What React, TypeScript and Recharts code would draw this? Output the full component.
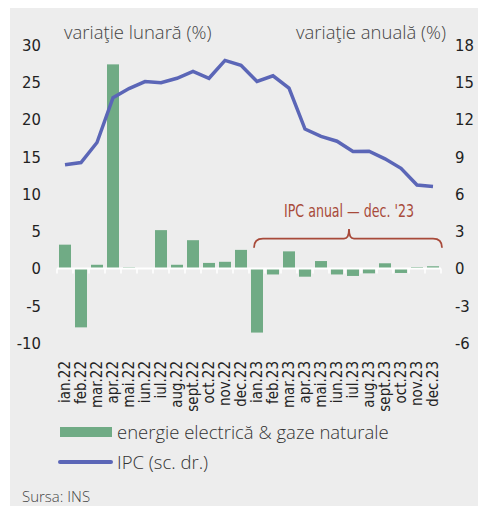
import React from 'react';
import { ComposedChart, Bar, Line, XAxis, YAxis, ReferenceLine, ReferenceArea, Legend } from 'recharts';

const months = [
  'ian.22', 'feb.22', 'mar.22', 'apr.22', 'mai.22', 'iun.22', 'iul.22', 'aug.22', 'sept.22', 'oct.22', 'nov.22', 'dec.22',
  'ian.23', 'feb.23', 'mar.23', 'apr.23', 'mai.23', 'iun.23', 'iul.23', 'aug.23', 'sept.23', 'oct.23', 'nov.23', 'dec.23',
];
const energie = [3.2, -7.9, 0.5, 27.4, 0.15, 0, 5.15, 0.5, 3.8, 0.75, 0.9, 2.5, -8.6, -0.8, 2.3, -1.1, 1.0, -0.8, -1.0, -0.65, 0.7, -0.6, 0.2, 0.3];
const ipc = [8.35, 8.53, 10.15, 13.76, 14.49, 15.05, 14.96, 15.32, 15.88, 15.32, 16.76, 16.37, 15.07, 15.52, 14.53, 11.23, 10.64, 10.25, 9.43, 9.44, 8.83, 8.07, 6.72, 6.61];
const leftTicks = [-10, -5, 0, 5, 10, 15, 20, 25, 30];
const rightTicks = [-6, -3, 0, 3, 6, 9, 12, 15, 18];

const data = months.map((m, i) => ({ month: m, energie: energie[i], ipc: ipc[i] }));

const GREEN = '#70ab85';
const BLUE = '#5b66b7';
const RED = '#a84a3a';
const NUM_FONT = '"Liberation Sans Narrow", "DejaVu Sans Condensed", sans-serif';
const TEXT_FONT = '"Open Sans", Lato, sans-serif';
const GAP = 2;

const BarWithTick = (props: any) => {
  const { x, y, width, height, value, index } = props;
  const v = Array.isArray(value) ? value[1] - value[0] : value;
  const zero = v >= 0 ? Math.max(y, y + height) : Math.min(y, y + height);
  const top = Math.min(y, y + height);
  const h = Math.abs(height);
  return (
    <g>
      {h > 0 && <rect x={x} y={top} width={width} height={h} fill={GREEN} />}
      <line x1={x - GAP} x2={x - GAP} y1={zero} y2={zero + 5} stroke="#fff" strokeWidth={1.5} />
      {index === months.length - 1 && (
        <line x1={x + width + GAP} x2={x + width + GAP} y1={zero} y2={zero + 5} stroke="#fff" strokeWidth={1.5} />
      )}
    </g>
  );
};

const MonthTick = ({ x, y, payload }: any) => (
  <text
    x={x}
    y={y}
    transform={`rotate(-90 ${x} ${y})`}
    textAnchor="end"
    dy="0.35em"
    fontSize={15}
    fontFamily={NUM_FONT}
    fill="#222"
  >
    {payload.value}
  </text>
);

const Brace = ({ x, y, width, height }: any) => {
  const x1 = x + 5;
  const x2 = x + width + 1;
  const mid = x + width / 2 + 4;
  const yb = y + height;
  const yh = yb - 9;
  const yt = y;
  const d = `M${x1},${yb} Q${x1},${yh} ${x1 + 9},${yh} L${mid - 5},${yh} Q${mid},${yh} ${mid},${yt} Q${mid},${yh} ${mid + 5},${yh} L${x2 - 9},${yh} Q${x2},${yh} ${x2},${yb}`;
  return (
    <g>
      <path d={d} fill="none" stroke={RED} strokeWidth={1.8} />
      <text
        x={mid}
        y={yt - 12}
        textAnchor="middle"
        fontSize={17}
        fontFamily={NUM_FONT}
        fill={RED}
        textLength={130}
        lengthAdjust="spacingAndGlyphs"
      >
        IPC anual — dec. '23
      </text>
    </g>
  );
};

const LegendContent = ({ payload }: any) => {
  const items = [...(payload || [])].sort((a: any, b: any) => (a.type === 'line' ? 1 : 0) - (b.type === 'line' ? 1 : 0));
  return (
    <div style={{ fontFamily: TEXT_FONT, fontSize: 18.5, fontWeight: 300, color: '#333', lineHeight: '30px' }}>
      {items.map((p: any) => (
        <div key={p.value} style={{ display: 'flex', alignItems: 'center' }}>
          {p.type === 'line' ? (
            <span style={{ display: 'inline-block', width: 55, height: 3.5, background: p.color, borderRadius: 2, marginRight: 4 }} />
          ) : (
            <span style={{ display: 'inline-block', width: 52, height: 10, background: p.color, marginRight: 5, marginLeft: 2 }} />
          )}
          <span>{p.value}</span>
        </div>
      ))}
    </div>
  );
};

export default function App() {
  return (
    <div style={{ position: 'absolute', left: 10, top: 8, width: 468, height: 498, background: '#ededed', overflow: 'hidden' }}>
      <div style={{ position: 'absolute', left: 54, top: 11, fontFamily: TEXT_FONT, fontSize: 18.5, fontWeight: 300, color: '#444' }}>
        variaţie lunară (%)
      </div>
      <div style={{ position: 'absolute', left: 286, top: 11, fontFamily: TEXT_FONT, fontSize: 18.5, fontWeight: 300, color: '#444' }}>
        variaţie anuală (%)
      </div>
      <ComposedChart
        width={468}
        height={498}
        data={data}
        margin={{ top: 37, right: 0, bottom: 98, left: 0 }}
        barCategoryGap={GAP}
      >
        <XAxis
          dataKey="month"
          interval={0}
          axisLine={false}
          tickLine={false}
          height={65}
          tick={<MonthTick />}
          tickMargin={12}
        />
        <YAxis
          yAxisId="left"
          domain={[-10, 30]}
          ticks={leftTicks}
          axisLine={false}
          tickLine={false}
          tickSize={0}
          tickMargin={16}
          width={47}
          tick={{ fontSize: 16.5, fontFamily: NUM_FONT, fill: '#222' }}
        />
        <YAxis
          yAxisId="right"
          orientation="right"
          domain={[-6, 18]}
          ticks={rightTicks}
          axisLine={false}
          tickLine={false}
          tickSize={0}
          tickMargin={14}
          width={37}
          tick={{ fontSize: 16.5, fontFamily: NUM_FONT, fill: '#222', textAnchor: 'start' }}
        />
        <ReferenceLine yAxisId="left" y={0} stroke="#fff" strokeWidth={2} />
        <ReferenceArea yAxisId="left" x1="ian.23" x2="dec.23" y1={2.8} y2={5.3} shape={<Brace />} />
        <Bar
          yAxisId="left"
          dataKey="energie"
          name="energie electrică & gaze naturale"
          fill={GREEN}
          shape={<BarWithTick />}
          isAnimationActive={false}
        />
        <Line
          yAxisId="right"
          dataKey="ipc"
          name="IPC (sc. dr.)"
          stroke={BLUE}
          strokeWidth={3.5}
          dot={false}
          type="linear"
          isAnimationActive={false}
        />
        <Legend
          layout="vertical"
          align="center"
          verticalAlign="middle"
          content={<LegendContent />}
          wrapperStyle={{ top: 409, left: 48, width: 420 }}
        />
      </ComposedChart>
      <div style={{ position: 'absolute', left: 12, top: 478, fontFamily: TEXT_FONT, fontSize: 15, fontWeight: 300, color: '#444' }}>
        Sursa: INS
      </div>
    </div>
  );
}
